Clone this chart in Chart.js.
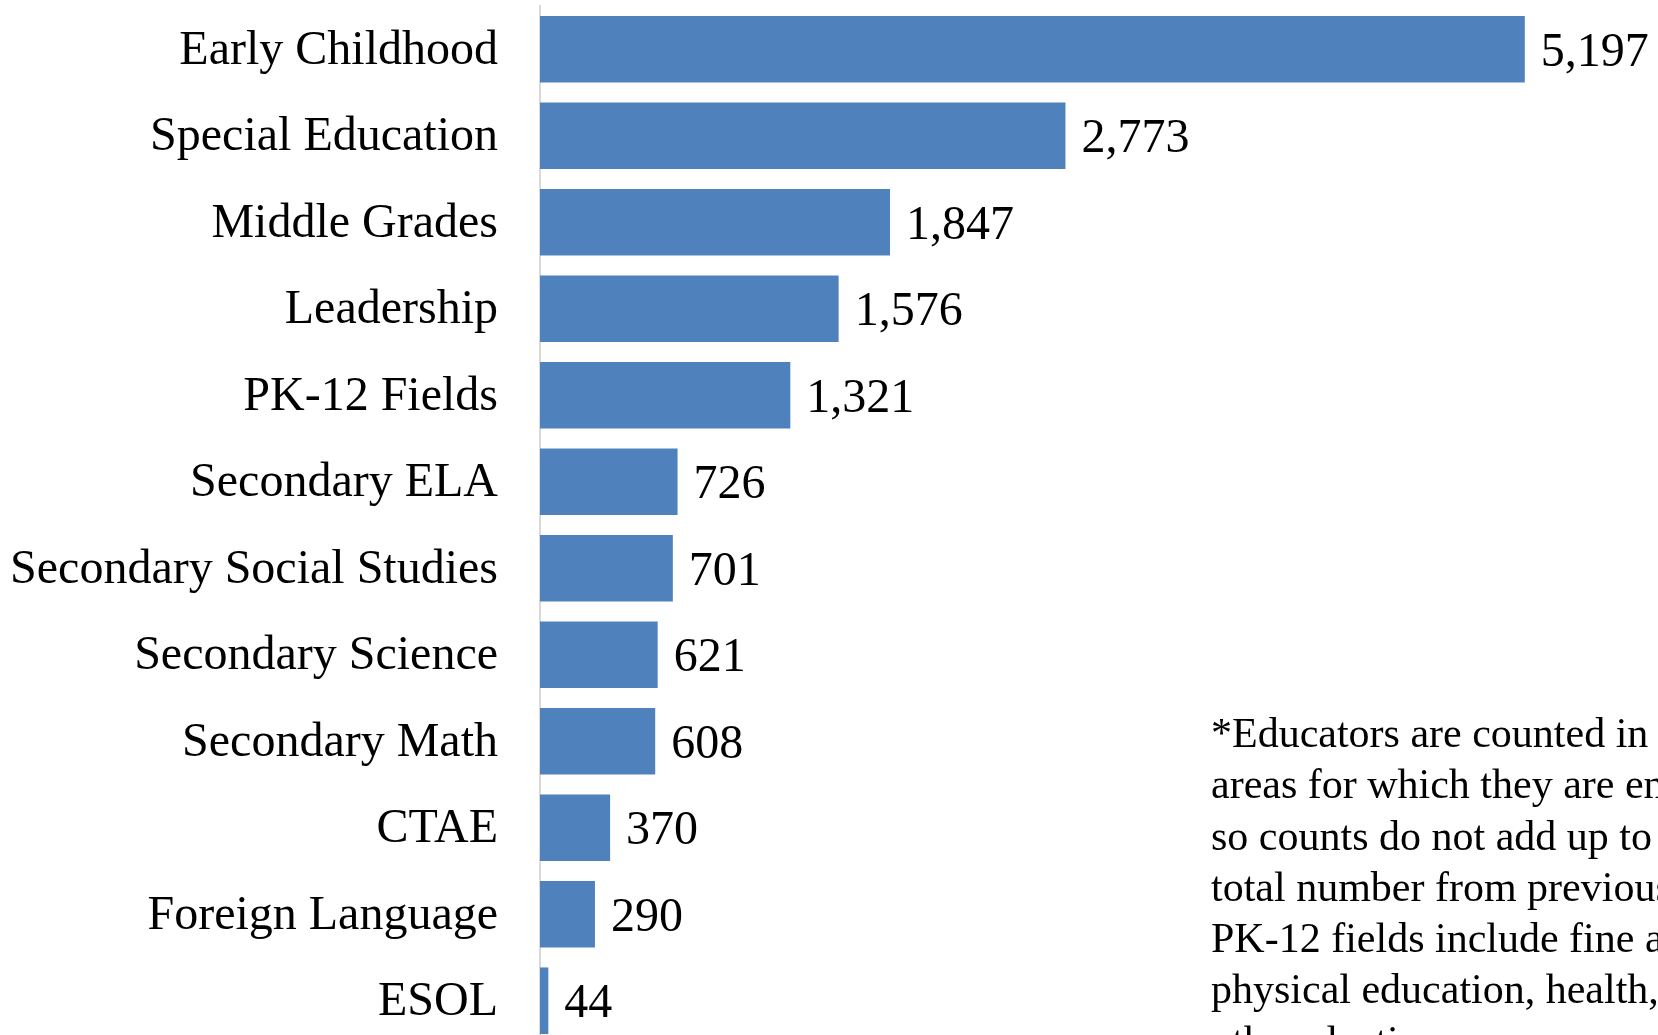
<!DOCTYPE html>
<html>
<head>
<meta charset="utf-8">
<script src="https://cdn.jsdelivr.net/npm/chart.js@4/dist/chart.umd.min.js"></script>
<style>
    html, body { margin: 0; padding: 0; background: #fff; overflow: hidden; }
    #wrap { position: relative; width: 1658px; height: 1035px; overflow: hidden; }
    #note {
        position: absolute; left: 1211px; top: 708px;
        font-family: "Liberation Serif", "Times New Roman", serif;
        font-size: 42px; line-height: 51.3px; color: #000;
        white-space: nowrap;
    }
</style>
</head>
<body>
<div id="wrap">
    <canvas id="fieldChart" width="1658" height="1050"></canvas>
    <div id="note">
        *Educators are counted in all<br>
        areas for which they are enrolled,<br>
        so counts do not add up to the<br>
        total number from previous chart.<br>
        PK-12 fields include fine arts,<br>
        physical education, health, and<br>
        other electives.
    </div>
</div>
<script>
// Fields and educator counts
var fields = ['Early Childhood', 'Special Education', 'Middle Grades', 'Leadership', 'PK-12 Fields',
    'Secondary ELA', 'Secondary Social Studies', 'Secondary Science', 'Secondary Math', 'CTAE',
    'Foreign Language', 'ESOL'];
var counts = [5197, 2773, 1847, 1576, 1321, 726, 701, 621, 608, 370, 290, 44];

var barColor = '#4F81BD';
var fontFamily = '"Liberation Serif", "Times New Roman", serif';

// Draw value labels to the right of each bar
var valueLabels = {
    id: 'valueLabels',
    afterDatasetsDraw: function(chart) {
        var ctx = chart.ctx;
        var meta = chart.getDatasetMeta(0);
        ctx.save();
        ctx.font = '48px ' + fontFamily;
        ctx.fillStyle = '#000';
        ctx.textAlign = 'left';
        ctx.textBaseline = 'middle';
        meta.data.forEach(function(bar, i) {
            ctx.fillText(counts[i].toLocaleString('en-US'), bar.x + 16, bar.y + 4);
        });
        ctx.restore();
    }
};

var ctx = document.getElementById('fieldChart').getContext('2d');
new Chart(ctx, {
    type: 'bar',
    data: {
        labels: fields,
        datasets: [{
            data: counts,
            backgroundColor: barColor,
            borderWidth: 0,
            categoryPercentage: 0.77,
            barPercentage: 1.0
        }]
    },
    options: {
        indexAxis: 'y',
        responsive: false,
        animation: false,
        layout: { padding: { top: 6, bottom: 6, left: 0, right: 0 } },
        scales: {
            x: { display: false, min: 0, max: 5900 },
            y: {
                grid: { display: false, drawTicks: false },
                border: { display: true, color: '#d9d9d9', width: 2 },
                ticks: {
                    color: '#000',
                    padding: 42,
                    labelOffset: 2,
                    font: { family: fontFamily, size: 48 }
                },
                afterFit: function(scale) {
                    scale.width = 540;
                    // no extra room above/below for the tick labels
                    scale.paddingTop = 0;
                    scale.paddingBottom = 0;
                }
            }
        },
        plugins: {
            legend: { display: false },
            tooltip: { enabled: false }
        }
    },
    plugins: [valueLabels]
});
</script>
</body>
</html>
